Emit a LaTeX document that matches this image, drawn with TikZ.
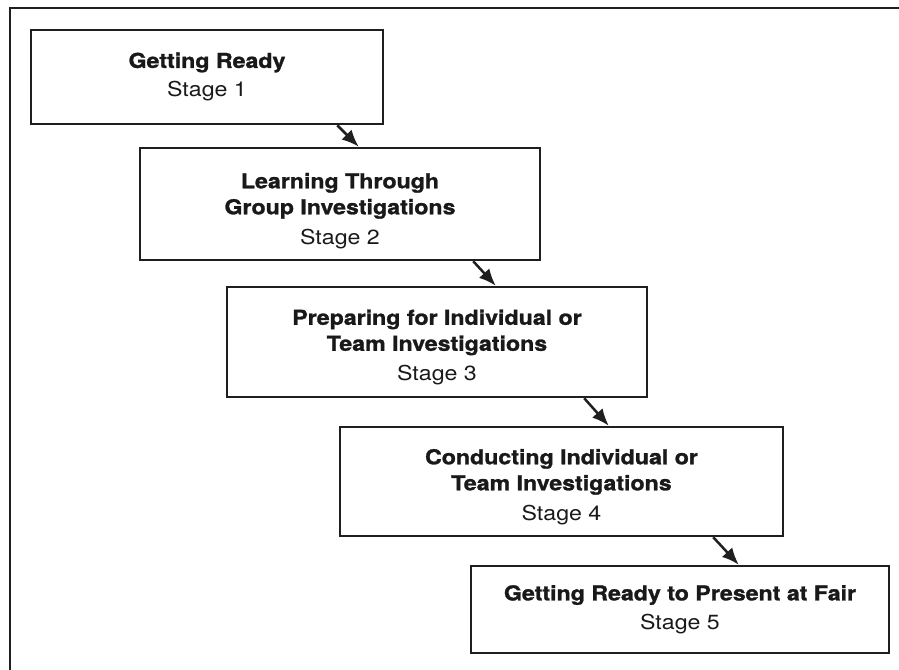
\documentclass[tikz,border=0pt]{standalone}
\usepackage{fontspec}
\setmainfont{TeX Gyre Heros}[FakeStretch=1.13, BoldFeatures={FakeBold=1.3}]
\usepackage{xcolor}
\usetikzlibrary{arrows.meta}

\begin{document}
\begin{tikzpicture}[
		x=1pt, y=-1pt,
		line width=2.5pt,
		color=black!88,
		every node/.style={font=\fontsize{20.5}{26}\selectfont, text=black!90},
		stage box/.style={draw, rectangle, inner sep=0pt, align=center},
		flow/.style={line width=2.5pt, -{Latex[length=17pt, width=14pt]}},
		]

	\clip (0, 0) rectangle (899, 669);

	% Frame
	\draw[line width=2.5pt] (10, 8) rectangle (920, 690);

	% Stage 1
	\node[stage box, minimum width=352pt, minimum height=94pt] (stage1) at (207, 77)
		{\textbf{Getting Ready}\\[3pt] Stage 1};

	% Stage 2
	\node[stage box, minimum width=400pt, minimum height=112pt] (stage2) at (340, 204)
		{\rule{0pt}{29pt}\textbf{Learning Through}\\ \textbf{Group Investigations}\\[4pt] Stage 2};

	% Stage 3
	\node[stage box, minimum width=420pt, minimum height=110pt] (stage3) at (437, 342)
		{\rule{0pt}{26pt}\textbf{Preparing for Individual or}\\ \textbf{Team Investigations}\\[4pt] Stage 3};

	% Stage 4
	\node[stage box, minimum width=443pt, minimum height=109pt] (stage4) at (561.5, 481.5)
		{\rule{0pt}{26pt}\textbf{Conducting Individual or}\\ \textbf{Team Investigations}\\[4pt] Stage 4};

	% Stage 5
	\node[stage box, minimum width=418pt, minimum height=87pt] (stage5) at (680, 609.5)
		{\textbf{Getting Ready to Present at Fair}\\[3pt] Stage 5};

	% Arrows between the stages
	\foreach \a/\b/\s/\e in {stage1/stage2/47/220, stage2/stage3/68/270,
		stage3/stage4/64/270, stage4/stage5/71/269}{
		\draw[flow] ([xshift=-\s pt]\a.south east) -- ([xshift=\e pt]\b.north west);
	}

\end{tikzpicture}
\end{document}
